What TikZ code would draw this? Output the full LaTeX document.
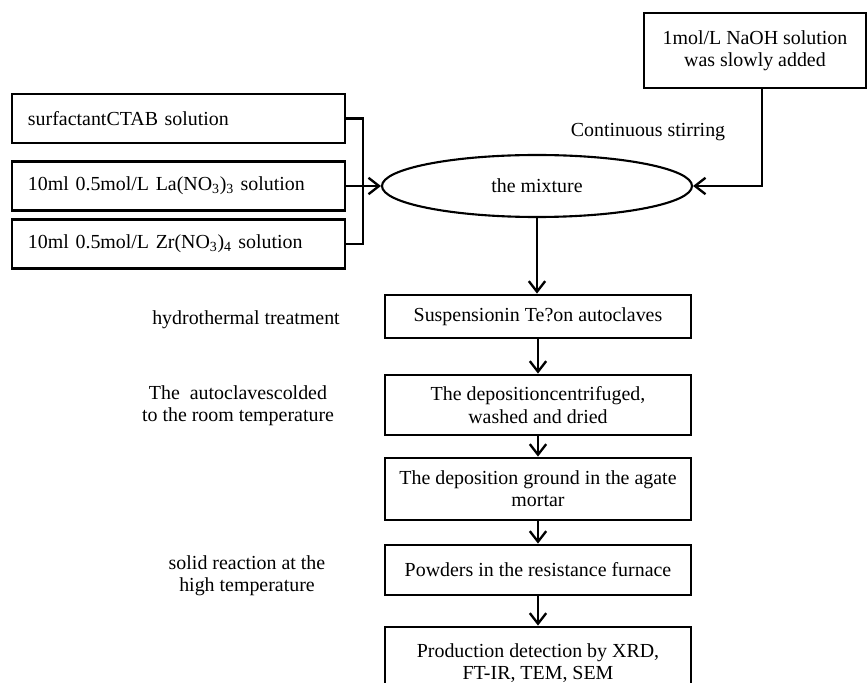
\documentclass[tikz,border=0pt]{standalone}
\usepackage{fontspec}
\setmainfont{Liberation Serif}
\usetikzlibrary{arrows.meta,shapes.geometric}
\begin{document}
\begin{tikzpicture}[x=0.03cm, y=-0.03cm,
  font=\fontsize{17}{19}\selectfont,
  kotak/.style={draw, line width=2.4pt, minimum width=9.18cm, align=center, inner sep=2pt},
  larutan/.style={draw, line width=2.4pt, text width=9.03cm, inner xsep=0.48cm, minimum height=1.47cm, align=left},
  alur/.style={line width=2pt, -{Straight Barb[length=9pt,width=14pt]}},
  garis/.style={line width=2pt}]
  \clip (0,0) rectangle (868,683);
  % larutan awal
  \node[larutan] (ctab) at (178.5,118.5) {surfactantCTAB solution};
  \node[larutan] (la) at (178.5,186) {10ml 0.5mol/L La(NO\textsubscript{3})\textsubscript{3} solution};
  \node[larutan] (zr) at (178.5,244) {10ml 0.5mol/L Zr(NO\textsubscript{3})\textsubscript{4} solution};
  \coordinate (sambung) at (363,186);
  \draw[garis] (ctab.east) -| (sambung);
  \draw[garis] (zr.east) -| (sambung);
  % campuran
  \node[draw, ellipse, line width=1.8pt, minimum width=9.3cm, minimum height=1.86cm, inner sep=0pt] (mix) at (537,186) {the mixture};
  \draw[alur] (la.east) -- (mix.west);
  \node[kotak, minimum width=6.66cm, minimum height=2.25cm] (naoh) at (755,50.5) {1mol/L NaOH solution\\was slowly added};
  \coordinate (turun) at (762,186);
  \draw[alur] (naoh.south -| turun) -- (turun) -- (mix.east);
  \node (aduk) at (648,132) {Continuous stirring};
  % tahapan proses
  \node[kotak, minimum height=1.29cm] (s1) at (538,316.5) {Suspensionin Te?on autoclaves};
  \node[kotak, minimum height=1.8cm] (s2) at (538,405) {The depositioncentrifuged,\\washed and dried};
  \node[kotak, minimum height=1.86cm] (s3) at (538,489) {The deposition ground in the agate\\mortar};
  \node[kotak, minimum height=1.5cm] (s4) at (538,570) {Powders in the resistance furnace};
  \node[kotak, minimum height=2.16cm] (s5) at (538,663) {Production detection by XRD,\\FT-IR, TEM, SEM};
  \draw[alur] (mix.south) -- (mix.south |- s1.north);
  \foreach \a/\b in {s1/s2, s2/s3, s3/s4, s4/s5}
    \draw[alur] (\a) -- (\b);
  % keterangan
  \node (hidro) at (246,320) {hydrothermal treatment};
  \node[align=center] (dingin) at (238,406) {The~ autoclavescolded\\to the room temperature};
  \node[align=center] (padat) at (247,576) {solid reaction at the\\high temperature};
\end{tikzpicture}
\end{document}
